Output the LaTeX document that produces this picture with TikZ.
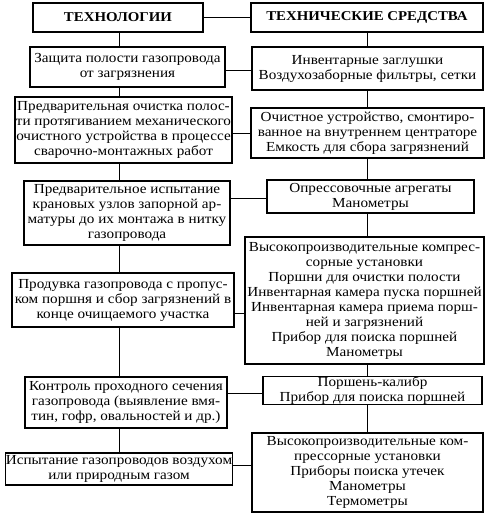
\documentclass[tikz,border=0pt]{standalone}
\usepackage{fontspec}
\setmainfont{Liberation Serif}[FakeStretch=1.1]
\begin{document}
\begin{tikzpicture}[x=1pt,y=-1pt,
  box/.style={draw,line width=1.1pt,inner sep=0pt,align=center,
    font=\fontsize{13.8}{15}\selectfont},
  head/.style={draw,line width=2.2pt,inner sep=0pt,align=center,
    font=\fontsize{13.5}{15}\selectfont\bfseries},
  link/.style={line width=0.9pt}]
\useasboundingbox (0,0) rectangle (490,515);
\node[head,minimum width=170pt,minimum height=29pt] (HL) at (118,17.5) {ТЕХНОЛОГИИ};
\node[head,minimum width=232pt,minimum height=29pt] (HR) at (367,17.5) {ТЕХНИЧЕСКИЕ СРЕДСТВА};
\node[box,minimum width=195pt,minimum height=40pt] (L1) at (127.5,67) {Защита полости газопровода\\от загрязнения};
\node[box,minimum width=231pt,minimum height=43pt] (R1) at (367.5,68.5) {Инвентарные заглушки\\Воздухозаборные фильтры, сетки};
\node[box,minimum width=217pt,minimum height=66pt] (L2) at (123.5,130) {Предварительная очистка полос-\\ти протягиванием механического\\очистного устройства в процессе\\сварочно-монтажных работ};
\node[box,minimum width=233pt,minimum height=50pt] (R2) at (367.5,133) {Очистное устройство, смонтиро-\\ванное на внутреннем центраторе\\Емкость для сбора загрязнений};
\node[box,minimum width=206pt,minimum height=64pt] (L3) at (127,213) {Предварительное испытание\\крановых узлов запорной ар-\\матуры до их монтажа в нитку\\газопровода};
\node[box,minimum width=207pt,minimum height=33pt] (R3) at (370.5,196.5) {Опрессовочные агрегаты\\Манометры};
\node[box,minimum width=222pt,minimum height=54pt] (L4) at (123,300) {Продувка газопровода с пропус-\\ком поршня и сбор загрязнений в\\конце очищаемого участка};
\node[box,minimum width=239pt,minimum height=127pt] (R4) at (364.5,300.5) {Высокопроизводительные компрес-\\сорные установки\\Поршни для очистки полости\\Инвентарная камера пуска поршней\\Инвентарная камера приема порш-\\ней и загрязнений\\Прибор для поиска поршней\\Манометры};
\node[box,minimum width=202pt,minimum height=51pt] (L5) at (126,402.5) {Контроль проходного сечения\\газопровода (выявление вмя-\\тин, гофр, овальностей и др.)};
\node[box,minimum width=219pt,minimum height=27pt] (R5) at (372.5,390.5) {Поршень-калибр\\Прибор для поиска поршней};
\node[box,minimum width=222pt,minimum height=32pt] (L6) at (119,469) {Испытание газопроводов воздухом\\или природным газом};
\node[box,minimum width=231pt,minimum height=79pt] (R6) at (367.5,472.5) {Высокопроизводительные ком-\\прессорные установки\\Приборы поиска утечек\\Манометры\\Термометры};
% column coordinates
\coordinate (lx) at (119,0);
\coordinate (rx) at (367,0);
% vertical connectors
\draw[link] (HL.south -| lx) -- (L1.north -| lx);
\draw[link] (L1.south -| lx) -- (L2.north -| lx);
\draw[link] (L2.south -| lx) -- (L3.north -| lx);
\draw[link] (L3.south -| lx) -- (L4.north -| lx);
\draw[link] (L4.south -| lx) -- (L5.north -| lx);
\draw[link] (L5.south -| lx) -- (L6.north -| lx);
\draw[link] (HR.south -| rx) -- (R1.north -| rx);
\draw[link] (R1.south -| rx) -- (R2.north -| rx);
\draw[link] (R2.south -| rx) -- (R3.north -| rx);
\draw[link] (R3.south -| rx) -- (R4.north -| rx);
\draw[link] (R4.south -| rx) -- (R5.north -| rx);
\draw[link] (R5.south -| rx) -- (R6.north -| rx);
% horizontal connectors
\coordinate (h0) at (0,17);
\coordinate (h1) at (0,70);
\coordinate (h2) at (0,133);
\coordinate (h3) at (0,198);
\coordinate (h4) at (0,313);
\coordinate (h5) at (0,393);
\coordinate (h6) at (0,465);
\draw[link] (HL.east |- h0) -- (HR.west |- h0);
\draw[link] (L1.east |- h1) -- (R1.west |- h1);
\draw[link] (L2.east |- h2) -- (R2.west |- h2);
\draw[link] (L3.east |- h3) -- (R3.west |- h3);
\draw[link] (L4.east |- h4) -- (R4.west |- h4);
\draw[link] (L5.east |- h5) -- (R5.west |- h5);
\draw[link] (L6.east |- h6) -- (R6.west |- h6);
\end{tikzpicture}
\end{document}
